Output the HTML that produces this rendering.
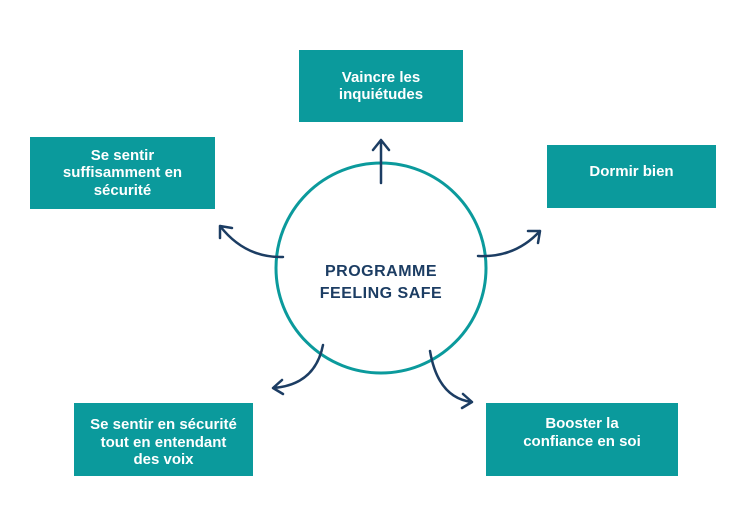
<!DOCTYPE html>
<html><head><meta charset="utf-8"><style>
body{margin:0;width:749px;height:515px;background:#fff;overflow:hidden;font-family:"Liberation Sans",sans-serif}
.b{position:absolute;background:#0b9a9c;color:#fff;font-weight:bold;font-size:15px;line-height:17.5px;text-align:center;display:flex;align-items:center;justify-content:center}
</style></head><body>
<div class="b" style="left:299px;top:50px;width:164px;height:72px;padding-top:0px;box-sizing:border-box">Vaincre les<br>inquiétudes</div>
<div class="b" style="left:30px;top:137px;width:185px;height:72px;box-sizing:border-box">Se sentir<br>suffisamment en<br>sécurité</div>
<div class="b" style="left:547px;top:145px;width:169px;height:63px;padding-bottom:10px;box-sizing:border-box">Dormir bien</div>
<div class="b" style="left:74px;top:403px;width:179px;height:73px;padding-top:6px;box-sizing:border-box">Se sentir en sécurité<br>tout en entendant<br>des voix</div>
<div class="b" style="left:486px;top:403px;width:192px;height:73px;padding-bottom:14px;box-sizing:border-box">Booster la<br>confiance en soi</div>
<svg width="749" height="515" style="position:absolute;left:0;top:0">
<circle cx="381" cy="268" r="105" fill="none" stroke="#0b9a9c" stroke-width="3"/>
<text x="381" y="276" text-anchor="middle" font-family="Liberation Sans" font-weight="bold" font-size="16" letter-spacing="0.5" fill="#1c3d63">PROGRAMME</text>
<text x="381" y="298" text-anchor="middle" font-family="Liberation Sans" font-weight="bold" font-size="16" letter-spacing="0.5" fill="#1c3d63">FEELING SAFE</text>
<g fill="none" stroke="#1c3d63" stroke-width="2.5" stroke-linecap="round" stroke-linejoin="round">
<path d="M381 183 L381 140 M373 150 L381 140 L389 150"/>
<path d="M283 257 Q245 258 220 226 M220 238 L220 226 L232 228"/>
<path d="M478 256 Q515 258 540 231 M528 231 L540 231 L538 243"/>
<path d="M323 345 Q315 385 273 388 M282 380 L273 388 L283 394"/>
<path d="M430 351 Q438 398 472 402 M463 394 L472 402 L462 408"/>
</g>
</svg>
</body></html>
